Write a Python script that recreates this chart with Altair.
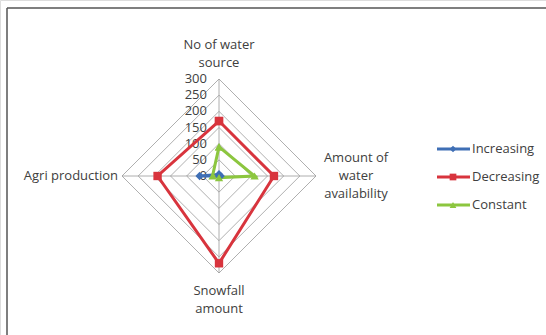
import altair as alt
import pandas as pd

axes_names = ["No of water source", "Amount of water availability", "Snowfall amount", "Agri production"]
axis_lines = [["No of water", "source"], ["Amount of", "water", "availability"], ["Snowfall", "amount"], ["Agri production"]]
series_names = ["Increasing", "Decreasing", "Constant"]
increasing = [5, 5, 0, 60]
decreasing = [170, 170, 270, 190]
constant = [90, 110, 5, 20]
ring_levels = [50, 100, 150, 200, 250, 300]
tick_labels = [0, 50, 100, 150, 200, 250, 300]

colors = ["#3F6FB5", "#D8343D", "#8CC63F"]
shapes = ["diamond", "square", "triangle-up"]
FONT = "Open Sans"
TXT = "#404040"

rows = []
for s, vals in zip(series_names, [increasing, decreasing, constant]):
    for i in range(5):
        rows.append({"series": s, "idx": i % 4, "order": i, "value": vals[i % 4]})
series_df = pd.DataFrame(rows)

ring_rows = []
for lv in ring_levels:
    for i in range(5):
        ring_rows.append({"level": lv, "idx": i % 4, "order": i, "value": lv})
ring_df = pd.DataFrame(ring_rows)

spoke_df = pd.DataFrame({"idx": list(range(4)), "value": [300] * 4})
label_df = pd.DataFrame([{"idx": i, "text": l, "value": 300} for i, l in enumerate(axis_lines)])
tick_df = pd.DataFrame({"t": tick_labels})
legend_df = pd.DataFrame({"series": series_names})

xs = alt.Scale(domain=[-300, 300], range=[122, 316])
ys = alt.Scale(domain=[-300, 300], range=[273, 79])
xcalc = "datum.value*sin(datum.idx*PI/2)"
ycalc = "datum.value*cos(datum.idx*PI/2)"


def pos(chart):
    return chart.transform_calculate(px=xcalc, py=ycalc)


X = alt.X("px:Q", scale=xs, axis=None)
Y = alt.Y("py:Q", scale=ys, axis=None)
cscale = alt.Scale(domain=series_names, range=colors)
sscale = alt.Scale(domain=series_names, range=shapes)

rings = pos(alt.Chart(ring_df).mark_line(color="#9a9a9a", strokeWidth=0.8)).encode(
    x=X, y=Y, detail="level:N", order="order:Q")

spokes = pos(alt.Chart(spoke_df).mark_rule(color="#9a9a9a", strokeWidth=0.8)).encode(
    x=X, y=Y, x2=alt.datum(0), y2=alt.datum(0))

lines = pos(alt.Chart(series_df).mark_line(strokeWidth=3)).encode(
    x=X, y=Y, color=alt.Color("series:N", scale=cscale, legend=None),
    detail="series:N", order="order:Q")

points = pos(alt.Chart(series_df).mark_point(filled=True, opacity=1, size=70)).encode(
    x=X, y=Y, color=alt.Color("series:N", scale=cscale, legend=None),
    shape=alt.Shape("series:N", scale=sscale, legend=None))

ticks = alt.Chart(tick_df).mark_text(align="right", baseline="middle", dx=-12, fontSize=13,
                                     font=FONT, color=TXT).encode(
    x=alt.X("zero:Q", scale=xs, axis=None), y=alt.Y("t:Q", scale=ys, axis=None),
    text="t:Q").transform_calculate(zero="0")

top_lbl = pos(alt.Chart(label_df[label_df.idx == 0])).mark_text(
    baseline="middle", dy=-34, fontSize=13, font=FONT, color=TXT, lineHeight=18).encode(
    x=X, y=Y, text="text")
right_lbl = pos(alt.Chart(label_df[label_df.idx == 1])).mark_text(
    align="center", baseline="middle", dx=40, dy=-18, fontSize=13, font=FONT, color=TXT,
    lineHeight=18).encode(x=X, y=Y, text="text")
bottom_lbl = pos(alt.Chart(label_df[label_df.idx == 2])).mark_text(
    baseline="middle", dy=18, fontSize=13, font=FONT, color=TXT, lineHeight=18).encode(
    x=X, y=Y, text="text")
left_lbl = pos(alt.Chart(label_df[label_df.idx == 3])).mark_text(
    align="right", baseline="middle", dx=-4, fontSize=13, font=FONT, color=TXT).encode(
    x=X, y=Y, text="text")

# manual legend
LY = alt.Y("series:N", scale=alt.Scale(type="point", domain=series_names, range=[149, 205], padding=0),
           axis=None)
leg_line = alt.Chart(legend_df).mark_rule(strokeWidth=3).encode(
    x=alt.value(437), x2=alt.value(470), y=LY,
    color=alt.Color("series:N", scale=cscale, legend=None))
leg_pt = alt.Chart(legend_df).mark_point(filled=True, opacity=1, size=45).encode(
    x=alt.value(453), y=LY, color=alt.Color("series:N", scale=cscale, legend=None),
    shape=alt.Shape("series:N", scale=sscale, legend=None))
leg_txt = alt.Chart(legend_df).mark_text(align="left", baseline="middle", fontSize=13,
                                         font=FONT, color=TXT).encode(
    x=alt.value(472), y=LY, text="series:N")

frame_top = alt.Chart(pd.DataFrame({"a": [0]})).mark_rule(color="#555555", strokeWidth=1.5).encode(
    x=alt.value(7), x2=alt.value(546), y=alt.value(8))
frame_left = alt.Chart(pd.DataFrame({"a": [0]})).mark_rule(color="#555555", strokeWidth=1.5).encode(
    x=alt.value(7), y=alt.value(8), y2=alt.value(335))

chart = alt.layer(
    frame_top, frame_left, rings, spokes, ticks, lines, points,
    top_lbl, right_lbl, bottom_lbl, left_lbl, leg_line, leg_pt, leg_txt
).resolve_scale(y="independent").properties(
    width=546, height=335, padding=0, autosize=alt.AutoSizeParams(type="none")
).configure_view(stroke=None).configure(background="white")

chart.save("out.html", embed_options={"renderer": "svg", "actions": False})
